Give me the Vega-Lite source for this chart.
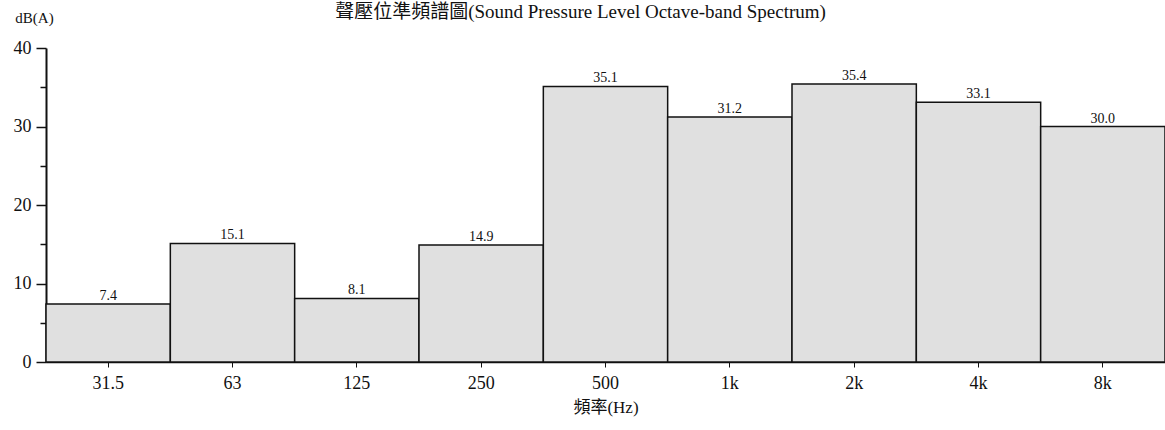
{
  "$schema": "https://vega.github.io/schema/vega-lite/v6.json",
  "autosize": "none",
  "width": 1119,
  "height": 314,
  "padding": {"left": 46, "top": 48, "right": 0, "bottom": 68},
  "background": "white",
  "title": {
    "text": "聲壓位準頻譜圖(Sound Pressure Level Octave-band Spectrum)",
    "font": "Liberation Serif, Noto Sans CJK TC",
    "fontSize": 19,
    "fontWeight": "normal",
    "color": "#111",
    "anchor": "middle",
    "dx": -25,
    "offset": 0,
    "dy": 12
  },
  "data": {
    "values": [
      {"freq": "31.5", "db": 7.4},
      {"freq": "63", "db": 15.1},
      {"freq": "125", "db": 8.1},
      {"freq": "250", "db": 14.9},
      {"freq": "500", "db": 35.1},
      {"freq": "1k", "db": 31.2},
      {"freq": "2k", "db": 35.4},
      {"freq": "4k", "db": 33.1},
      {"freq": "8k", "db": 30.0}
    ]
  },
  "config": {
    "view": {"stroke": null},
    "axis": {
      "labelFont": "Liberation Serif",
      "titleFont": "Liberation Serif, Noto Sans CJK TC",
      "labelColor": "#111",
      "titleColor": "#111",
      "domainColor": "#111",
      "tickColor": "#111",
      "grid": false
    }
  },
  "encoding": {
    "x": {
      "field": "freq",
      "type": "nominal",
      "sort": null,
      "scale": {"paddingInner": 0, "paddingOuter": 0},
      "axis": {
        "title": "頻率(Hz)",
        "titleFontSize": 17,
        "titleFontWeight": "normal",
        "titlePadding": 7,
        "labelAngle": 0,
        "labelFontSize": 18,
        "labelPadding": 7,
        "tickSize": 5,
        "domainWidth": 1.5
      }
    },
    "y": {
      "field": "db",
      "type": "quantitative",
      "scale": {"domain": [0, 40], "nice": false},
      "axis": {
        "title": "dB(A)",
        "titleAngle": 0,
        "titleAlign": "center",
        "titleBaseline": "middle",
        "titleX": -12,
        "titleY": -31,
        "titleFontSize": 15,
        "titleFontWeight": "normal",
        "values": [0, 5, 10, 15, 20, 25, 30, 35, 40],
        "labelExpr": "datum.value % 10 == 0 ? datum.label : ''",
        "labelFontSize": 18,
        "labelPadding": 5,
        "tickSize": {"condition": {"test": "datum.value % 10 == 0", "value": 10}, "value": 6},
        "tickWidth": 1.5,
        "domainWidth": 2
      }
    }
  },
  "layer": [
    {
      "mark": {"type": "bar", "fill": "#e0e0e0", "stroke": "#111", "strokeWidth": 1.5}
    },
    {
      "mark": {
        "type": "text",
        "baseline": "bottom",
        "dy": -1,
        "font": "Liberation Serif",
        "fontSize": 14,
        "color": "#111"
      },
      "encoding": {"text": {"field": "db", "type": "quantitative", "format": ".1f"}}
    }
  ]
}
